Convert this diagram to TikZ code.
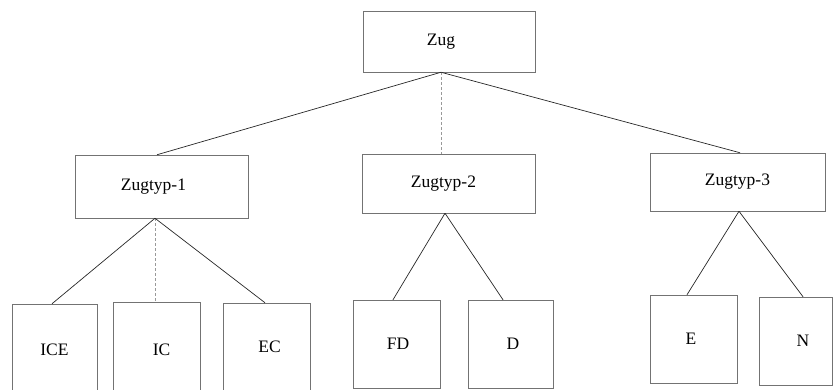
\documentclass[tikz,border=0pt]{standalone}
\usepackage{fontspec}
\setmainfont{Liberation Serif}
% move a label sideways inside its box by #1
\newcommand\movedlabel[2]{\hspace*{\dimexpr 2\dimexpr #1\relax\relax}#2}
\begin{document}
\begin{tikzpicture}[x=1pt,y=-1pt,
  box/.style={draw=black!55,line width=0.5pt,rectangle,inner sep=0pt,
    font=\fontsize{17.5}{20}\selectfont},
  link/.style={draw=black!85,line width=0.7pt},
  faint/.style={draw=black!40,line width=0.5pt,dash pattern=on 3pt off 2pt}]
\useasboundingbox (0,0) rectangle (836,389);

% top level
\node[box,minimum width=172pt,minimum height=61pt] (zug) at (449,41.5) {\movedlabel{-8pt}{Zug}};

% second level
\node[box,minimum width=173pt,minimum height=63pt] (t1) at (161.5,186.5) {\movedlabel{-8pt}{Zugtyp-1}};
\node[box,minimum width=173pt,minimum height=59pt] (t2) at (448.5,183.5) {\movedlabel{-5pt}{Zugtyp-2}};
\node[box,minimum width=175pt,minimum height=58pt] (t3) at (737.5,182) {Zugtyp-3};

% third level
\node[box,minimum width=85pt,minimum height=92pt] (ice) at (54.5,350) {ICE};
\node[box,minimum width=87pt,minimum height=96pt] (ic) at (156.5,350) {\movedlabel{5pt}{IC}};
\node[box,minimum width=87pt,minimum height=88pt] (ec) at (266.5,347) {\movedlabel{3pt}{EC}};
\node[box,minimum width=87pt,minimum height=88pt] (fd) at (396.5,344) {\movedlabel{1.5pt}{FD}};
\node[box,minimum width=85pt,minimum height=88pt] (d) at (510.5,344) {\movedlabel{2.5pt}{D}};
\node[box,minimum width=87pt,minimum height=88pt] (e) at (693.5,339) {\movedlabel{-2.5pt}{E}};
\node[box,minimum width=73pt,minimum height=88pt] (n) at (795.5,341) {\movedlabel{7.5pt}{N}};

% connectors
\draw[link] ([xshift=-8pt]zug.south) -- ([xshift=-4.5pt]t1.north);
\draw[faint] ([xshift=-8pt]zug.south) -- ([xshift=-7.5pt]t2.north);
\draw[link] ([xshift=-8pt]zug.south) -- ([xshift=2.5pt]t3.north);

\draw[link] ([xshift=-6.5pt]t1.south) -- ([xshift=-2.5pt]ice.north);
\draw[faint] ([xshift=-6.5pt]t1.south) -- ([xshift=-1.5pt]ic.north);
\draw[link] ([xshift=-6.5pt]t1.south) -- ([xshift=-1.5pt]ec.north);

\draw[link] ([xshift=-3.5pt]t2.south) -- ([xshift=-3.5pt]fd.north);
\draw[link] ([xshift=-3.5pt]t2.south) -- ([xshift=-7.5pt]d.north);

\draw[link] ([xshift=1.5pt]t3.south) -- ([xshift=-6.5pt]e.north);
\draw[link] ([xshift=1.5pt]t3.south) -- ([xshift=7.5pt]n.north);
\end{tikzpicture}
\end{document}
